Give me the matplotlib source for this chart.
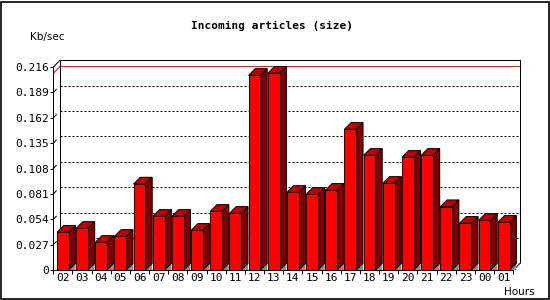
import matplotlib
matplotlib.use('Agg')
import matplotlib.pyplot as plt
from matplotlib.patches import Polygon, Rectangle

# ---- data ----
hours = ['02', '03', '04', '05', '06', '07', '08', '09', '10', '11', '12', '13',
         '14', '15', '16', '17', '18', '19', '20', '21', '22', '23', '00', '01']
values = [0.0401, 0.0443, 0.0294, 0.0358, 0.0915, 0.0571, 0.0571, 0.0422,
          0.0624, 0.0603, 0.2071, 0.2093, 0.0826, 0.0805, 0.0848, 0.1497,
          0.1220, 0.0922, 0.1199, 0.1220, 0.0674, 0.0497, 0.0528, 0.0508]
yticks = [0, 0.027, 0.054, 0.081, 0.108, 0.135, 0.162, 0.189, 0.216]
ytick_labels = ['0', '0.027', '0.054', '0.081', '0.108', '0.135', '0.162', '0.189', '0.216']
title = 'Incoming articles (size)'
ylabel = 'Kb/sec'
xlabel = 'Hours'

# ---- layout ----
W, H = 550, 300
fig = plt.figure(figsize=(W / 100, H / 100), dpi=100)
fig.patch.set_facecolor('white')
L, R, B, T = 53.3, 513.3, 270.0, 67.0
ax = fig.add_axes([L / W, 1 - B / H, (R - L) / W, (B - T) / H])
n = len(hours)
ymax = yticks[-1]
ax.set_xlim(0, n)
ax.set_ylim(0, ymax)
ax.patch.set_visible(False)

depth = 6.7
dx = depth / ((R - L) / n)
dy = depth / ((B - T) / ymax)

lw = 0.72
# back wall edges
ax.plot([dx, dx, n + dx, n + dx], [dy, ymax + dy, ymax + dy, dy], color='black',
        lw=lw, clip_on=False, zorder=1, solid_capstyle='butt')
ax.plot([0, dx], [ymax, ymax + dy], color='black', lw=lw, clip_on=False, zorder=1)
ax.plot([n, n + dx], [0, dy], color='black', lw=lw, clip_on=False, zorder=1)

# grid lines on back wall + stubs on side
for v in yticks[1:-1]:
    ax.plot([dx, n + dx], [v + dy, v + dy], color='black', lw=lw,
            dashes=(2, 2), clip_on=False, zorder=0.5)
    ax.plot([0, dx * 0.45], [v, v + dy * 0.45], color='black', lw=lw,
            clip_on=False, zorder=0.5)

# max line (red)
vmax = max(values)
ax.plot([0, dx, n + dx], [vmax, vmax + dy, vmax + dy], color='#ff0000', lw=lw,
        clip_on=False, zorder=0.6)

# bars
bw = 0.62
z = 3
for i, v in enumerate(values):
    x0 = i + 0.19
    x1 = x0 + bw
    ax.add_patch(Polygon([(x1, 0), (x1 + dx, dy), (x1 + dx, 0)], closed=True,
                         facecolor='#8c8c8c', edgecolor='none', clip_on=False, zorder=z))
    ax.add_patch(Polygon([(x1, 0), (x1 + dx, dy), (x1 + dx, v + dy), (x1, v)], closed=True,
                         facecolor='#800000', edgecolor='black', lw=lw, clip_on=False, zorder=z))
    ax.add_patch(Polygon([(x0, v), (x1, v), (x1 + dx, v + dy), (x0 + dx, v + dy)], closed=True,
                         facecolor='#c00000', edgecolor='black', lw=lw, clip_on=False, zorder=z))
    ax.add_patch(Rectangle((x0, 0), bw, v, facecolor='#ff0000', edgecolor='black',
                           lw=lw, clip_on=False, zorder=z))
    z += 0.01

# spines
for s in ['top', 'right']:
    ax.spines[s].set_visible(False)
for s in ['left', 'bottom']:
    ax.spines[s].set_linewidth(lw)
    ax.spines[s].set_zorder(5)

# ticks
ax.set_yticks(yticks, labels=ytick_labels)
ax.set_xticks(range(n + 1), labels=[''] * (n + 1))
ax.set_xticks([i + 0.5 for i in range(n)], labels=hours, minor=True)
ax.tick_params(axis='y', length=2.4, width=lw, pad=0.8, labelsize=8)
ax.tick_params(axis='x', which='major', length=2.6, width=lw)
ax.tick_params(axis='x', which='minor', length=0, pad=2.2, labelsize=8)
for lab in ax.get_xticklabels(minor=True) + ax.get_yticklabels():
    lab.set_fontfamily('DejaVu Sans Mono')

# texts
fig.text(272 / W, 1 - 26 / H, title, ha='center', va='center',
         fontfamily='DejaVu Sans Mono', fontweight='bold', fontsize=8)
fig.text(30 / W, 1 - 36.7 / H, ylabel, ha='left', va='center',
         fontfamily='DejaVu Sans', fontsize=7.5)
fig.text(504 / W, 1 - 291.7 / H, xlabel, ha='left', va='center',
         fontfamily='DejaVu Sans', fontsize=7.5)

# outer border
fig.patches.append(Rectangle((1 / W, 1 / H), 1 - 2.5 / W, 1 - 2.5 / H,
                             transform=fig.transFigure, fill=False,
                             edgecolor='black', lw=1.2))

fig.savefig('out.png', dpi=100, facecolor='white')
